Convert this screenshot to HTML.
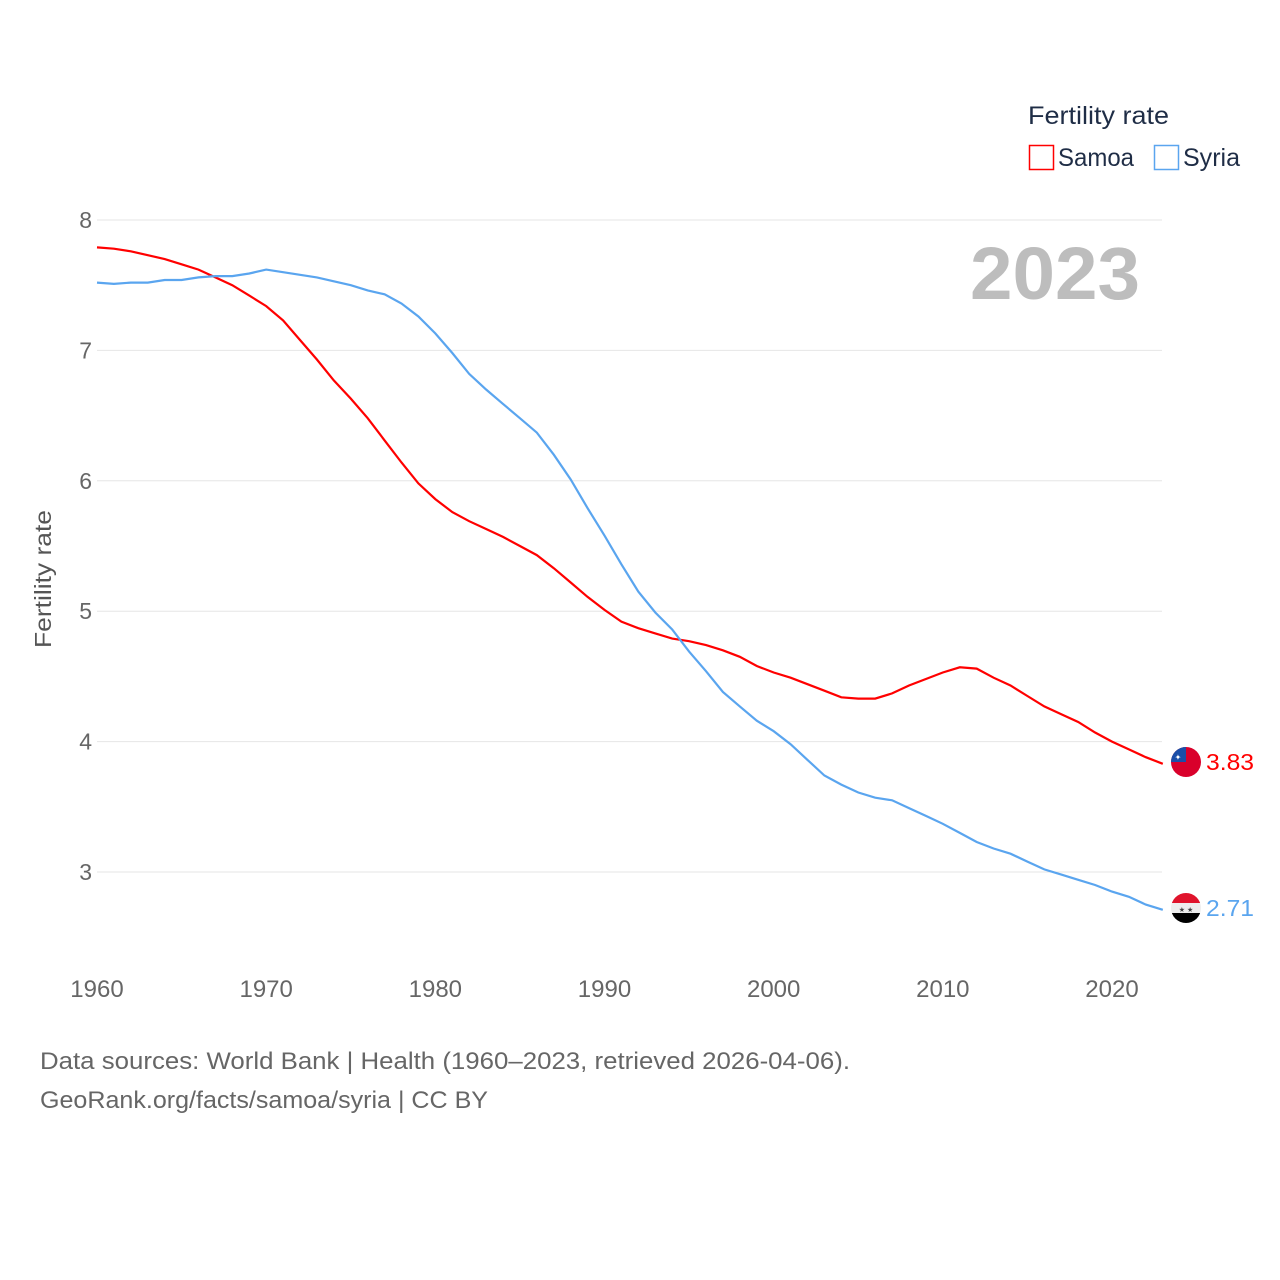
<!DOCTYPE html>
<html><head><meta charset="utf-8"><style>
body{margin:0;background:#fff;font-family:"Liberation Sans",sans-serif;}
svg{display:block}
</style></head><body>
<svg id="chart" width="1280" height="1280">
<defs>
<clipPath id="c1"><circle cx="1186" cy="762" r="15"/></clipPath>
<clipPath id="c2"><circle cx="1186" cy="908" r="15"/></clipPath>
</defs>
<g id="grid"></g>
<g id="lines"></g>
<text x="1028" y="124" font-size="25" fill="#1f2d46" textLength="141" lengthAdjust="spacingAndGlyphs">Fertility rate</text>
<rect x="1029.5" y="145.5" width="24" height="24" fill="none" stroke="#ff0000" stroke-width="1.5"/>
<text x="1058" y="166" font-size="25" fill="#1f2d46" textLength="76" lengthAdjust="spacingAndGlyphs">Samoa</text>
<rect x="1154.5" y="145.5" width="24" height="24" fill="none" stroke="#5aa5ef" stroke-width="1.5"/>
<text x="1183" y="166" font-size="25" fill="#1f2d46" textLength="57" lengthAdjust="spacingAndGlyphs">Syria</text>
<text x="970" y="299" font-size="74" font-weight="bold" fill="#bdbdbd" textLength="170" lengthAdjust="spacingAndGlyphs">2023</text>
<text transform="translate(51,579) rotate(-90)" font-size="23" fill="#555" text-anchor="middle" textLength="138" lengthAdjust="spacingAndGlyphs">Fertility rate</text>
<g clip-path="url(#c1)"><rect x="1171" y="747" width="30" height="30" fill="#d9002b"/><rect x="1171" y="747" width="15" height="15" fill="#1a4fa8"/><text x="1178" y="760" font-size="8" fill="#fff" text-anchor="middle">✦</text></g>
<g clip-path="url(#c2)"><rect x="1171" y="893" width="30" height="10" fill="#e0142c"/><rect x="1171" y="903" width="30" height="10" fill="#eee"/><rect x="1171" y="913" width="30" height="10" fill="#000"/><text x="1186" y="912" font-size="7" fill="#444" text-anchor="middle">★ ★</text></g>
<text x="1206" y="770" font-size="23" fill="#ff0000" textLength="48" lengthAdjust="spacingAndGlyphs">3.83</text>
<text x="1206" y="916" font-size="23" fill="#5aa5ef" textLength="48" lengthAdjust="spacingAndGlyphs">2.71</text>
<text x="40" y="1069" font-size="24" fill="#666" textLength="810" lengthAdjust="spacingAndGlyphs">Data sources: World Bank | Health (1960–2023, retrieved 2026-04-06).</text>
<text x="40" y="1108" font-size="24" fill="#666" textLength="448" lengthAdjust="spacingAndGlyphs">GeoRank.org/facts/samoa/syria | CC BY</text>
</svg>
<script>
const years=[];for(let y=1960;y<=2023;y++)years.push(y);
const samoa=[7.79,7.78,7.76,7.73,7.70,7.66,7.62,7.56,7.50,7.42,7.34,7.23,7.08,6.93,6.77,6.63,6.48,6.31,6.14,5.98,5.86,5.76,5.69,5.63,5.57,5.50,5.43,5.33,5.22,5.11,5.01,4.92,4.87,4.83,4.79,4.77,4.74,4.70,4.65,4.58,4.53,4.49,4.44,4.39,4.34,4.33,4.33,4.37,4.43,4.48,4.53,4.57,4.56,4.49,4.43,4.35,4.27,4.21,4.15,4.07,4.00,3.94,3.88,3.83];
const syria=[7.52,7.51,7.52,7.52,7.54,7.54,7.56,7.57,7.57,7.59,7.62,7.60,7.58,7.56,7.53,7.50,7.46,7.43,7.36,7.26,7.13,6.98,6.82,6.70,6.59,6.48,6.37,6.20,6.01,5.79,5.58,5.36,5.15,4.99,4.86,4.69,4.54,4.38,4.27,4.16,4.08,3.98,3.86,3.74,3.67,3.61,3.57,3.55,3.49,3.43,3.37,3.30,3.23,3.18,3.14,3.08,3.02,2.98,2.94,2.90,2.85,2.81,2.75,2.71];
const yTicks=[3,4,5,6,7,8];
const xTicks=[1960,1970,1980,1990,2000,2010,2020];
const X=y=>97+(y-1960)*(1015/60);
const Y=v=>220+(8-v)*130.4;
const NS='http://www.w3.org/2000/svg';
const g=document.getElementById('grid'),L=document.getElementById('lines');
yTicks.forEach(t=>{
 const l=document.createElementNS(NS,'line');
 l.setAttribute('x1',97);l.setAttribute('x2',1162);l.setAttribute('y1',Y(t));l.setAttribute('y2',Y(t));
 l.setAttribute('stroke','#e6e6e6');
 
 
 g.appendChild(l);
 const tx=document.createElementNS(NS,'text');
 tx.setAttribute('x',92);tx.setAttribute('y',Y(t)+8);tx.setAttribute('text-anchor','end');
 tx.setAttribute('font-size','23');tx.setAttribute('fill','#666');tx.textContent=t;
 
 
 g.appendChild(tx);
});
xTicks.forEach(t=>{
 const tx=document.createElementNS(NS,'text');
 tx.setAttribute('x',X(t));tx.setAttribute('y',997);tx.setAttribute('text-anchor','middle');
 tx.setAttribute('font-size','24');tx.setAttribute('fill','#666');tx.textContent=t;
 
 
 g.appendChild(tx);
});
function line(data,color,name){
 const p=document.createElementNS(NS,'path');
 p.setAttribute('d',data.map((v,i)=>(i?'L':'M')+X(years[i]).toFixed(1)+','+Y(v).toFixed(1)).join(''));
 p.setAttribute('fill','none');p.setAttribute('stroke',color);p.setAttribute('stroke-width','2.2');
 
 
 L.appendChild(p);
}
line(samoa,'#ff0000','samoa-line');
line(syria,'#5aa5ef','syria-line');
</script>
</body></html>
